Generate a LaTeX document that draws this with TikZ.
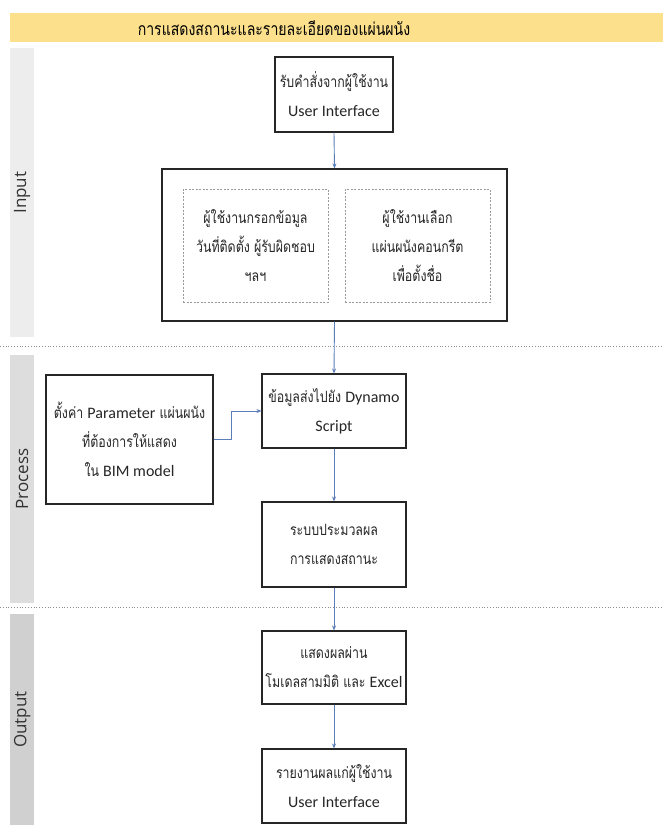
\documentclass[tikz,border=0pt]{standalone}
\usepackage{fontspec}
\setmainfont[Script=Thai,FakeStretch=0.8]{Loma}
\newfontfamily\lanefont{Open Sans}
\newfontfamily\latinfont{Carlito}
\newcommand\lt[1]{{\latinfont\fontsize{16}{29}\selectfont #1}}
\usetikzlibrary{arrows.meta}
\definecolor{bandyellow}{HTML}{FCE08C}
\definecolor{linkblue}{HTML}{5B7DB8}
\definecolor{laneA}{HTML}{EDEDED}
\definecolor{laneB}{HTML}{DDDDDD}
\definecolor{laneC}{HTML}{D0D0D0}
\definecolor{boxline}{HTML}{262626}
\definecolor{dashgrey}{HTML}{9A9A9A}
\begin{document}
\begin{tikzpicture}[x=1pt,y=-1pt,
  every node/.style={font=\fontsize{15.5}{29}\selectfont, text=black!85},
  procbox/.style={draw=boxline, line width=1.1pt, align=center, inner sep=0pt, fill=white},
  dashbox/.style={draw=dashgrey, dash pattern=on 2pt off 1.5pt, line width=0.8pt, align=center, inner sep=0pt},
  link/.style={draw=linkblue, line width=0.9pt, -{Stealth[length=5pt,width=4pt]}},
  lanebar/.style={draw=none, inner sep=0pt},
  lanelabel/.style={rotate=90, font=\lanefont\fontsize{17}{19}\selectfont, text=black!80},
  sepline/.style={draw=black!45, dotted, line width=0.8pt}]
\useasboundingbox (0,0) rectangle (663,825);
\fill[white] (0,0) rectangle (663,825);
% title band
\node[lanebar, fill=bandyellow, minimum width=653pt, minimum height=29pt, anchor=north west] (band) at (10,13) {};
\node[font=\fontsize{17.6}{19}\selectfont, text=black] (title) at (274,28) {การแสดงสถานะและรายละเอียดของแผ่นผนัง};
% lane bars
\node[lanebar, fill=laneA, minimum width=24pt, minimum height=289pt, anchor=north west] (laneinput) at (10,48) {};
\node[lanebar, fill=laneB, minimum width=24pt, minimum height=248pt, anchor=north west] (laneprocess) at (10,355) {};
\node[lanebar, fill=laneC, minimum width=24pt, minimum height=211pt, anchor=north west] (laneoutput) at (10,614) {};
\node[lanelabel] (linput) at (laneinput.center) {Input};
\node[lanelabel] (lprocess) at (laneprocess.center) {Process};
\node[lanelabel] (loutput) at (laneoutput.center) {Output};
% separators
\coordinate (s1a) at (0,346); \coordinate (s1b) at (663,346);
\coordinate (s2a) at (0,607); \coordinate (s2b) at (663,607);
\draw[sepline] (s1a) -- (s1b);
\draw[sepline] (s2a) -- (s2b);
% input
\node[procbox, minimum width=118pt, minimum height=75pt] (cmd) at (334,94.5) {รับคำสั่งจากผู้ใช้งาน\\\lt{User Interface}};
\node[procbox, minimum width=345pt, minimum height=152pt] (big) at (334.5,245) {};
\node[dashbox, minimum width=145pt, minimum height=113pt] (fill) at (255.5,245.5) {ผู้ใช้งานกรอกข้อมูล\\วันที่ติดตั้ง ผู้รับผิดชอบ\\ฯลฯ};
\node[dashbox, minimum width=145pt, minimum height=113pt] (pick) at (417.5,245.5) {ผู้ใช้งานเลือก\\แผ่นผนังคอนกรีต\\เพื่อตั้งชื่อ};
% process
\node[procbox, minimum width=144pt, minimum height=74pt] (dyn) at (334,411) {ข้อมูลส่งไปยัง \lt{Dynamo}\\\lt{Script}};
\node[procbox, minimum width=167pt, minimum height=129pt] (param) at (129.5,439.5) {ตั้งค่า \lt{Parameter} แผ่นผนัง\\ที่ต้องการให้แสดง\\ใน \lt{BIM model}};
\node[procbox, minimum width=144pt, minimum height=85pt] (proc) at (334,544.5) {ระบบประมวลผล\\การแสดงสถานะ};
% output
\node[procbox, minimum width=144pt, minimum height=73pt] (show) at (334,667.5) {แสดงผลผ่าน\\โมเดลสามมิติ และ \lt{Excel}};
\node[procbox, minimum width=144pt, minimum height=74pt] (report) at (334,786) {รายงานผลแก่ผู้ใช้งาน\\\lt{User Interface}};
% links
\draw[link] (cmd.south) -- (big.north);
\draw[link] (big.south) -- (dyn.north);
\draw[link] (param.east) -- ++(18,0) |- (dyn.west);
\draw[link] (dyn.south) -- (proc.north);
\draw[link] (proc.south) -- (show.north);
\draw[link] (show.south) -- (report.north);
\end{tikzpicture}
\end{document}
